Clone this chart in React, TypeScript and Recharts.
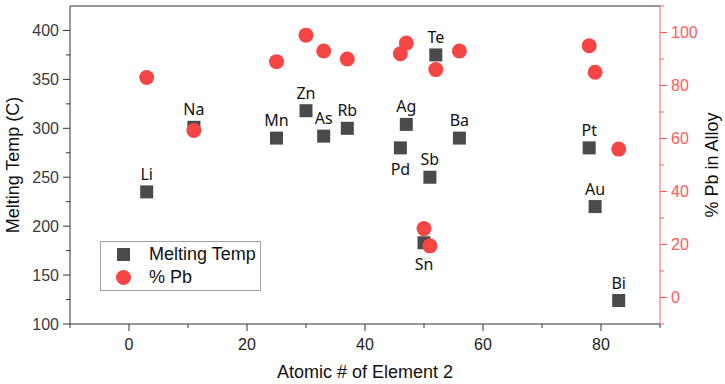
import { ScatterChart, Scatter, XAxis, YAxis, Legend, Label } from 'recharts'

// alloying element, its atomic number, eutectic melting point and lead content
const elements = ['Li', 'Na', 'Mn', 'Zn', 'As', 'Rb', 'Pd', 'Ag', 'Sn', 'Sb', 'Te', 'Ba', 'Pt', 'Au', 'Bi']
const atomicNumbers = [3, 11, 25, 30, 33, 37, 46, 47, 50, 51, 52, 56, 78, 79, 83]
const meltingTemp = [235, 301, 290, 318, 292, 300, 280, 304, 183, 250, 375, 290, 280, 220, 124]
const pbPercent = [83, 63, 89, 99, 93, 90, 92, 96, 26, 19.5, 86, 93, 95, 85, 56]

const xTicks = [-10, 0, 10, 20, 30, 40, 50, 60, 70, 80, 90]
const tempTicks = [100, 125, 150, 175, 200, 225, 250, 275, 300, 325, 350, 375, 400]
const pbTicks = [-10, 0, 10, 20, 30, 40, 50, 60, 70, 80, 90, 100, 110]

const seriesNames = ['Melting Temp', '% Pb']

// labels that sit under their marker instead of above it
const labelsBelow = ['Pd', 'Sn']

const tempData = elements.map((name, i) => ({ name, x: atomicNumbers[i], y: meltingTemp[i] }))
const pbData = elements.map((name, i) => ({ name, x: atomicNumbers[i], y: pbPercent[i] }))

const AXIS = '#333333'
const RED = '#f64545'
const RED_AXIS = '#ff5c5c'
const FONT = '"Liberation Sans", Arial, sans-serif'
const LABEL_FONT = '"Noto Sans", sans-serif'

function LeftTick({ x, y, payload }: any) {
  const major = payload.value % 50 === 0
  const len = major ? 7 : 4
  return (
    <g>
      <line x1={x - len} x2={x} y1={y} y2={y} stroke={AXIS} />
      {major && (
        <text x={x - 11} y={y} textAnchor="end" dominantBaseline="central" fill="#3a3a3a" fontSize={16} fontFamily={FONT}>
          {payload.value}
        </text>
      )}
    </g>
  )
}

function RightTick({ x, y, payload }: any) {
  const major = payload.value % 20 === 0
  const len = major ? 7 : 4
  return (
    <g>
      <line x1={x} x2={x + len} y1={y} y2={y} stroke={RED_AXIS} />
      {major && (
        <text x={x + 11} y={y} textAnchor="start" dominantBaseline="central" fill={RED_AXIS} fontSize={16} fontFamily={FONT}>
          {payload.value}
        </text>
      )}
    </g>
  )
}

function BottomTick({ x, y, payload }: any) {
  const major = payload.value % 20 === 0
  const len = major ? 7 : 4
  return (
    <g>
      <line x1={x} x2={x} y1={y} y2={y + len} stroke={AXIS} />
      {major && (
        <text x={x} y={y + 20} textAnchor="middle" dominantBaseline="central" fill="#222" fontSize={16} fontFamily={FONT}>
          {payload.value}
        </text>
      )}
    </g>
  )
}

function TopTick({ x, y, payload }: any) {
  const len = payload.value % 20 === 0 ? 7 : 5
  return <line x1={x} x2={x} y1={y} y2={y + len} stroke={AXIS} />
}

function SquareDot({ cx, cy, payload }: any) {
  const below = labelsBelow.includes(payload.name)
  return (
    <g>
      <rect x={cx - 6.5} y={cy - 6.5} width={13} height={13} fill="#4a4a4a" />
      <text
        x={cx}
        y={below ? cy + 21 : cy - 18}
        textAnchor="middle"
        dominantBaseline="central"
        fill="#111"
        fontSize={16}
        fontFamily={LABEL_FONT}
      >
        {payload.name}
      </text>
    </g>
  )
}

function RoundDot({ cx, cy }: any) {
  return <circle cx={cx} cy={cy} r={7.5} fill={RED} />
}

function LegendBox({ payload }: any) {
  const items = [...(payload || [])].sort(
    (a: any, b: any) => seriesNames.indexOf(a.value) - seriesNames.indexOf(b.value),
  )
  return (
    <div
      style={{
        width: 159,
        border: '1px solid #a0a0a0',
        background: '#fff',
        padding: '1px 0',
        fontFamily: FONT,
        fontSize: 18,
        color: '#111',
      }}
    >
      {items.map((entry: any) => (
        <div key={entry.value} style={{ display: 'flex', alignItems: 'center', height: 23 }}>
          <svg width={15} height={15} style={{ marginLeft: 15, marginRight: 18 }}>
            {entry.type === 'circle' ? (
              <circle cx={7.5} cy={7.5} r={7.5} fill={entry.color} />
            ) : (
              <rect x={1} y={1} width={13} height={13} fill={entry.color} />
            )}
          </svg>
          <span>{entry.value}</span>
        </div>
      ))}
    </div>
  )
}

function axisTitle(text: string, dx: number) {
  return ({ viewBox }: any) => (
    <text
      x={viewBox.x + dx}
      y={viewBox.y + viewBox.height / 2}
      transform={`rotate(-90 ${viewBox.x + dx} ${viewBox.y + viewBox.height / 2})`}
      textAnchor="middle"
      dominantBaseline="central"
      fill="#111"
      fontSize={18}
      fontFamily={FONT}
    >
      {text}
    </text>
  )
}

export default function App() {
  return (
    <div style={{ width: 725, height: 384, background: '#fff' }}>
      <style>{'body{margin:0}'}</style>
      <ScatterChart width={725} height={384} margin={{ top: 0, right: 0, bottom: 0, left: 0 }}>
        <XAxis
          xAxisId="bottom"
          type="number"
          dataKey="x"
          domain={[-10, 90]}
          ticks={xTicks}
          interval={0}
          height={60}
          tickSize={0}
          tickMargin={0}
          tickLine={false}
          axisLine={{ stroke: AXIS }}
          tick={<BottomTick />}
        >
          <Label
            content={({ viewBox }: any) => (
              <text
                x={viewBox.x + viewBox.width / 2}
                y={viewBox.y + 48}
                textAnchor="middle"
                dominantBaseline="central"
                fill="#111"
                fontSize={18}
                fontFamily={FONT}
              >
                Atomic # of Element 2
              </text>
            )}
          />
        </XAxis>
        <XAxis
          xAxisId="top"
          orientation="top"
          type="number"
          domain={[-10, 90]}
          allowDataOverflow
          ticks={xTicks}
          interval={0}
          height={6}
          tickSize={0}
          tickMargin={0}
          tickLine={false}
          axisLine={{ stroke: AXIS }}
          tick={<TopTick />}
        />
        <YAxis
          yAxisId="temp"
          type="number"
          dataKey="y"
          domain={[100, 425]}
          ticks={tempTicks}
          interval={0}
          width={70}
          tickSize={0}
          tickMargin={0}
          tickLine={false}
          axisLine={{ stroke: AXIS }}
          tick={<LeftTick />}
        >
          <Label content={axisTitle('Melting Temp (C)', 13)} />
        </YAxis>
        <YAxis
          yAxisId="pb"
          orientation="right"
          type="number"
          dataKey="y"
          domain={[-10, 110]}
          ticks={pbTicks}
          interval={0}
          width={65}
          tickSize={0}
          tickMargin={0}
          tickLine={false}
          axisLine={{ stroke: RED_AXIS }}
          tick={<RightTick />}
        >
          <Label content={axisTitle('% Pb in Alloy', 52)} />
        </YAxis>
        <Legend
          layout="vertical"
          align="center"
          verticalAlign="middle"
          content={<LegendBox />}
          wrapperStyle={{ left: 100, top: 241, width: 'auto' }}
        />
        <Scatter
          name="Melting Temp"
          data={tempData}
          xAxisId="bottom"
          yAxisId="temp"
          fill="#4a4a4a"
          legendType="square"
          shape={<SquareDot />}
          isAnimationActive={false}
        />
        <Scatter
          name="% Pb"
          data={pbData}
          xAxisId="bottom"
          yAxisId="pb"
          fill={RED}
          legendType="circle"
          shape={<RoundDot />}
          isAnimationActive={false}
        />
      </ScatterChart>
    </div>
  )
}
